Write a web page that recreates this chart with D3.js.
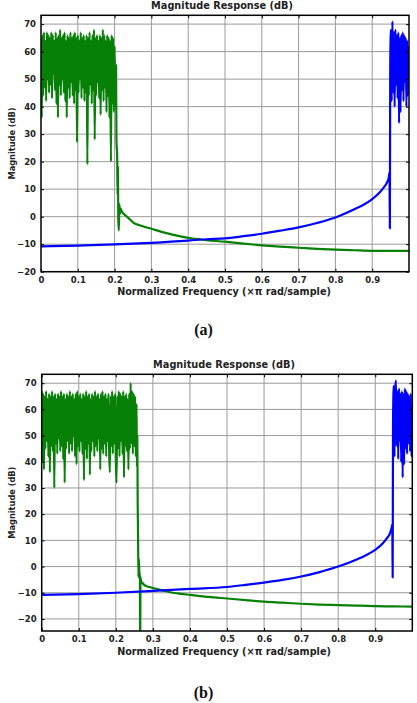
<!DOCTYPE html>
<html><head><meta charset="utf-8">
<script src="https://cdn.jsdelivr.net/npm/d3@7"></script>
<style>body{margin:0;background:#fff} svg{display:block}</style>
</head><body><svg id="c" width="417" height="703"></svg>
<script>
// ---------- data ----------
const yTicks = [-20,-10,0,10,20,30,40,50,60,70];
const xTicks = [0,0.1,0.2,0.3,0.4,0.5,0.6,0.7,0.8,0.9];
const xTickLabels = ["0","0.1","0.2","0.3","0.4","0.5","0.6","0.7","0.8","0.9"];
const titleText = "Magnitude Response (dB)";
const xLabelText = "Normalized Frequency (\u00d7\u03c0 rad/sample)";
const yLabelText = "Magnitude (dB)";
const captions = ["(a)","(b)"];

// panel (a): green passband samples, 0 .. 0.198 every 0.002
const gA_passStart = 0, gA_passStep = 0.002;
const gA_pass = [65,36,66,44,67,47,64,42,67,50,66,45,65,48,67,43,66,52,64,46,
  67,41,65,36,66,48,68,44,65,50,66,45,67,42,64,36,66,47,65,43,
  67,49,65,44,66,41,67,46,65,27,66,45,64,50,67,43,65,47,66,42,
  64,45,66,19,65,44,67,48,64,41,66,46,68,28,65,44,66,49,64,43,
  66,37,65,46,68,42,66,47,64,38,66,44,65,36,64,20,66,41,65,38];
const gA_tail = [[0.200,62],[0.202,40],[0.204,55],[0.205,28],[0.207,22],[0.208,8],[0.209,18],
  [0.210,-1],[0.2115,-5],[0.213,4.5],[0.2145,1],[0.216,3],[0.22,1.8],[0.23,0.4],[0.24,-0.8],
  [0.25,-2.1],[0.27,-3.2],[0.3,-4.4],[0.33,-5.6],[0.36,-6.6],[0.4,-7.7],[0.45,-8.5],[0.5,-9.1],
  [0.55,-9.8],[0.6,-10.4],[0.65,-10.9],[0.7,-11.3],[0.75,-11.7],[0.8,-12.0],[0.85,-12.2],
  [0.9,-12.4],[0.95,-12.4],[1.0,-12.4]];
const bA_stop = [[0,-10.8],[0.1,-10.5],[0.2,-10.1],[0.3,-9.5],[0.4,-8.7],[0.45,-8.2],[0.5,-7.9],
  [0.55,-7.1],[0.6,-6.2],[0.65,-5.1],[0.7,-3.9],[0.75,-2.3],[0.8,-0.3],[0.85,2.6],[0.88,4.6],
  [0.9,6.4],[0.92,8.8],[0.93,10.4],[0.94,12.4],[0.945,14.2],[0.947,16],[0.948,-4.3]];
const bA_passStart = 0.949, bA_passStep = 0.002;
const bA_pass = [55,68,42,71,45,67,40,68,48,66,43,67,34,65,38,66,46,67,42,66,49,65,40,64,44,62];

// panel (b)
const gB_passStart = 0, gB_passStep = 0.002;
const gB_pass = [67,40,66,37,65,45,67,48,64,42,66,36,65,46,67,44,65,30,66,47,
  64,43,66,49,65,44,67,46,65,41,66,32,64,45,66,48,65,43,67,47,
  65,44,66,50,64,42,66,39,67,46,65,44,66,48,64,43,66,33,65,45,
  67,41,65,47,66,35,64,44,66,48,65,42,67,46,65,44,66,49,64,37,
  66,45,67,43,65,47,66,42,64,48,66,44,36,65,46,67,43,65,47,66,
  41,32,65,45,67,42,66,48,65,43,67,34,65,46,66,44,64,37,66,45,
  70,47,67,43,66,46,65,42];
const gB_tail = [[0.256,62],[0.257,38],[0.258,50],[0.259,24],[0.260,12],[0.261,-4],[0.262,3],
  [0.2635,-2],[0.265,-4],[0.2655,-30],[0.266,-30],[0.2665,-4],[0.268,-5.6],[0.27,-6],[0.275,-6.8],
  [0.28,-7.3],[0.29,-7.8],[0.3,-8.2],[0.325,-9.1],[0.35,-9.9],[0.375,-10.4],[0.4,-10.8],[0.45,-11.6],
  [0.5,-12.2],[0.55,-12.8],[0.6,-13.4],[0.65,-13.8],[0.7,-14.2],[0.75,-14.5],[0.8,-14.7],
  [0.85,-14.9],[0.9,-15.1],[0.95,-15.2],[1.0,-15.3]];
const bB_stop = [[0,-10.8],[0.1,-10.5],[0.2,-10.0],[0.3,-9.3],[0.4,-8.5],[0.5,-7.8],[0.55,-7.0],
  [0.6,-6.1],[0.65,-5.1],[0.7,-3.8],[0.75,-2.1],[0.8,0],[0.85,2.7],[0.88,4.7],[0.9,6.4],
  [0.92,8.8],[0.93,10.6],[0.94,12.8],[0.945,15.3],[0.946,16],[0.947,-4.2]];
const bB_passStart = 0.948, bB_passStep = 0.002;
const bB_pass = [55,69,42,68,71,46,67,41,68,48,66,40,67,34,66,39,68,45,67,43,66,47,65,44,66,42,60];

// ---------- drawing ----------
const svg = d3.select("#c");
const FONT = "DejaVu Sans";
const green = "#078007", blue = "#0000ff";

function seq(start, step, vals){ return vals.map((v,i)=>[start+i*step, v]); }

const panels = [
  {box:[41,409,15.3,271.7], yDom:[-20,73.2], cap:captions[0], capY:335,
   green: seq(gA_passStart,gA_passStep,gA_pass).concat(gA_tail),
   blue: bA_stop.concat(seq(bA_passStart,bA_passStep,bA_pass))},
  {box:[41.7,412.3,374.3,631], yDom:[-24.6,73.4], cap:captions[1], capY:698,
   green: seq(gB_passStart,gB_passStep,gB_pass).concat(gB_tail),
   blue: bB_stop.concat(seq(bB_passStart,bB_passStep,bB_pass))}
];

function fitText(sel, target){
  const w = sel.node().getComputedTextLength();
  const fs = parseFloat(sel.attr("font-size"));
  sel.attr("font-size", fs*target/w);
}

panels.forEach((p,pi)=>{
  const [x0,x1,y0,y1] = p.box;
  const x = d3.scaleLinear([0,1],[x0,x1]);
  const y = d3.scaleLinear(p.yDom,[y1,y0]);
  const g = svg.append("g");
  const cid = "clip"+pi;
  svg.append("clipPath").attr("id",cid).append("rect")
    .attr("x",x0).attr("y",y0).attr("width",x1-x0).attr("height",y1-y0);

  g.append("rect").attr("x",x0).attr("y",y0).attr("width",x1-x0).attr("height",y1-y0).attr("fill","#fff");

  // grid
  g.append("g").selectAll("line").data(xTicks.filter(t=>t>0)).join("line")
    .attr("x1",d=>x(d)).attr("x2",d=>x(d)).attr("y1",y0).attr("y2",y1)
    .attr("stroke","#9a9a9a").attr("stroke-width",1);
  g.append("g").selectAll("line").data(yTicks).join("line")
    .attr("x1",x0).attr("x2",x1).attr("y1",d=>y(d)).attr("y2",d=>y(d))
    .attr("stroke","#9a9a9a").attr("stroke-width",1);

  // lines
  const line = d3.line().curve(d3.curveMonotoneX).x(d=>x(d[0])).y(d=>y(d[1]));
  const lg = g.append("g").attr("clip-path",`url(#${cid})`);
  lg.append("path").attr("d",line(p.green)).attr("fill","none").attr("stroke",green)
    .attr("stroke-width",2.2).attr("stroke-linejoin","round");
  lg.append("path").attr("d",line(p.blue)).attr("fill","none").attr("stroke",blue)
    .attr("stroke-width",2.2).attr("stroke-linejoin","round");

  // axes
  const fmtX = d=>xTickLabels[xTicks.indexOf(d)];
  const ax = (a)=>a.call(s=>s.select(".domain").remove())
     .call(s=>s.selectAll(".tick line").attr("stroke","#000"))
     .call(s=>s.selectAll("text").attr("font-family",FONT).attr("font-weight","bold")
       .attr("font-size",8.5).attr("fill","#222"));
  g.append("g").attr("transform",`translate(${x0},0)`)
    .call(d3.axisLeft(y).tickValues(yTicks).tickSize(-3).tickPadding(5)).call(ax);
  g.append("g").attr("transform",`translate(${x1},0)`)
    .call(d3.axisRight(y).tickValues(yTicks).tickSize(-3).tickFormat("")).call(ax);
  g.append("g").attr("transform",`translate(0,${y1})`)
    .call(d3.axisBottom(x).tickValues(xTicks).tickSize(-3).tickPadding(5).tickFormat(fmtX)).call(ax);
  g.append("g").attr("transform",`translate(0,${y0})`)
    .call(d3.axisTop(x).tickValues(xTicks).tickSize(-3).tickFormat("")).call(ax);

  g.append("rect").attr("x",x0).attr("y",y0).attr("width",x1-x0).attr("height",y1-y0)
    .attr("fill","none").attr("stroke","#000").attr("stroke-width",1.5);

  // texts
  const t = g.append("text").text(titleText).attr("x",(x0+x1)/2 - 3).attr("y",y0-6)
    .attr("text-anchor","middle").attr("font-family",FONT).attr("font-weight","bold")
    .attr("font-size",9.5).attr("fill","#222");
  fitText(t,142);
  const xl = g.append("text").text(xLabelText).attr("x",224).attr("y",y1+23.5)
    .attr("text-anchor","middle").attr("font-family",FONT).attr("font-weight","bold")
    .attr("font-size",8.5).attr("fill","#222");
  fitText(xl,214);
  const yl = g.append("text").text(yLabelText)
    .attr("transform",`translate(15,${(y0+y1)/2}) rotate(-90)`)
    .attr("text-anchor","middle").attr("font-family",FONT).attr("font-weight","bold")
    .attr("font-size",8.2).attr("fill","#222");
  fitText(yl,72);
  g.append("text").text(p.cap).attr("x",203.5).attr("y",p.capY)
    .attr("text-anchor","middle").attr("font-family","Liberation Serif").attr("font-weight","bold")
    .attr("font-size",16).attr("fill","#111");
});
</script></body></html>
